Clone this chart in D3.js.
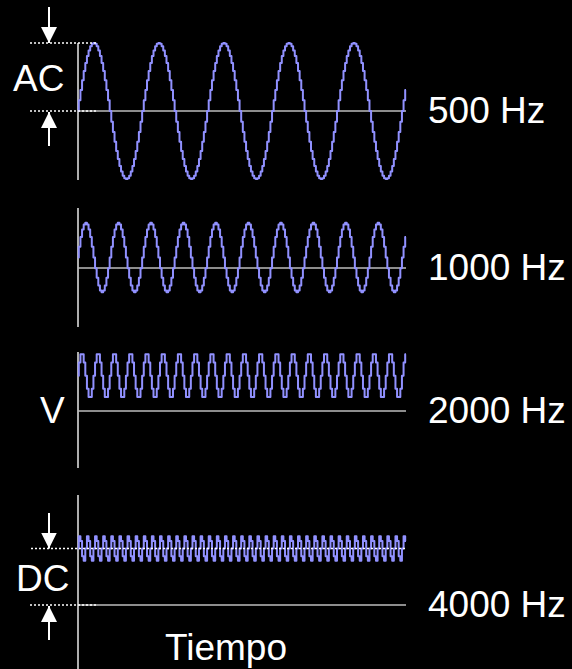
<!DOCTYPE html>
<head>
  <meta charset="utf-8">
  <script src="https://d3js.org/d3.v7.min.js"></script>
</head>
<body>
  <div id="chart"></div>

  <script>

    // frequencies shown, one trace per panel
    var freqs = [500, 1000, 2000, 4000];
    var freqLabels = ['500 Hz', '1000 Hz', '2000 Hz', '4000 Hz'];
    // AC amplitude and DC level, relative to the 500 Hz amplitude
    var acAmp = [1.0, 0.51, 0.33, 0.19];
    var dcLevel = [0, 0.155, 0.52, 0.83];
    // time window in ms and the sample step of the stepped trace
    var timeSpan = 10.1;
    var sampleStep = 0.05;

    var width = 572;
    var height = 669;

    // layout of the four panels (baseline and vertical axis extent)
    var panelBase = [111, 268, 411, 605];
    var axisTop = [43, 208, 352, 495];
    var axisBottom = [180, 327, 468, 669];
    var unitPx = 68;

    var svg = d3.select('#chart')
      .append('svg')
        .attr('width', width)
        .attr('height', height);

    svg.append('rect')
      .attr('width', width)
      .attr('height', height)
      .attr('fill', '#000');

    var x = d3.scaleLinear().domain([0, timeSpan]).range([78, 406]);

    // arrow heads
    svg.append('defs').append('marker')
      .attr('id', 'head')
      .attr('viewBox', '0 0 16 16')
      .attr('refX', 16).attr('refY', 8)
      .attr('markerWidth', 16).attr('markerHeight', 16)
      .attr('markerUnits', 'userSpaceOnUse')
      .attr('orient', 'auto')
      .append('path')
        .attr('d', 'M0,0 L16,8 L0,16 Z')
        .attr('fill', '#fff');

    function draw_panel(i) {
      var y = d3.scaleLinear().domain([0, 1]).range([panelBase[i], panelBase[i] - unitPx]);
      var g = svg.append('g');

      // vertical axis
      g.append('line')
        .attr('x1', x(0)).attr('x2', x(0))
        .attr('y1', axisTop[i]).attr('y2', axisBottom[i])
        .attr('stroke', '#e8e8e8').attr('stroke-width', 1.5);

      // baseline
      g.append('line')
        .attr('x1', x(0)).attr('x2', x(timeSpan))
        .attr('y1', y(0)).attr('y2', y(0))
        .attr('stroke', '#bdbdbd').attr('stroke-width', 1.5);

      // sampled trace
      var pts = d3.range(0, timeSpan, sampleStep).concat([timeSpan]).map(function(t) {
        return {t: t, v: dcLevel[i] + acAmp[i] * Math.sin(2 * Math.PI * freqs[i] * t / 1000)};
      });
      var line = d3.line()
        .x(d => x(d.t))
        .y(d => y(d.v))
        .curve(d3.curveStep);
      g.append('path')
        .datum(pts)
        .attr('d', line)
        .attr('fill', 'none')
        .attr('stroke', '#9191ff')
        .attr('stroke-width', 2)
        .attr('stroke-linejoin', 'round');

      g.append('text')
        .attr('x', 428)
        .attr('y', y(0) + 12)
        .attr('class', 'lbl')
        .text(freqLabels[i]);
      return y;
    }

    var ys = freqs.map((f, i) => draw_panel(i));

    function dotted(x1, x2, yy) {
      svg.append('line')
        .attr('x1', x1).attr('x2', x2)
        .attr('y1', yy).attr('y2', yy)
        .attr('stroke', '#fff').attr('stroke-width', 1.5)
        .attr('stroke-dasharray', '2,2');
    }

    function arrow(xx, from, to) {
      svg.append('line')
        .attr('x1', xx).attr('x2', xx)
        .attr('y1', from).attr('y2', to)
        .attr('stroke', '#fff').attr('stroke-width', 2)
        .attr('marker-end', 'url(#head)');
    }

    // AC amplitude marker on the first panel
    var y0 = ys[0];
    dotted(30, 96, y0(acAmp[0]));
    dotted(30, 96, y0(0));
    arrow(49, 7, y0(acAmp[0]));
    arrow(49, 146, y0(0) + 1);

    // DC level marker on the last panel
    var y3 = ys[3];
    dotted(31, x(timeSpan), y3(dcLevel[3]));
    dotted(30, 96, y3(0));
    arrow(49, 513, y3(dcLevel[3]));
    arrow(49, 640, y3(0) + 1);

    svg.append('text').attr('class', 'lbl').attr('x', 13).attr('y', 91).text('AC');
    svg.append('text').attr('class', 'lbl').attr('x', 40).attr('y', 423).text('V');
    svg.append('text').attr('class', 'lbl').attr('x', 16).attr('y', 591).text('DC');
    svg.append('text').attr('class', 'lbl').attr('x', 165).attr('y', 660).text('Tiempo');

  </script>
</body>

<style>
  body {
    margin: 0;
    background-color: #000;
  }
  svg {
    display: block;
  }
  .lbl {
    fill: #fff;
    font-family: 'Liberation Sans', Arial, sans-serif;
    font-size: 37px;
  }
</style>
